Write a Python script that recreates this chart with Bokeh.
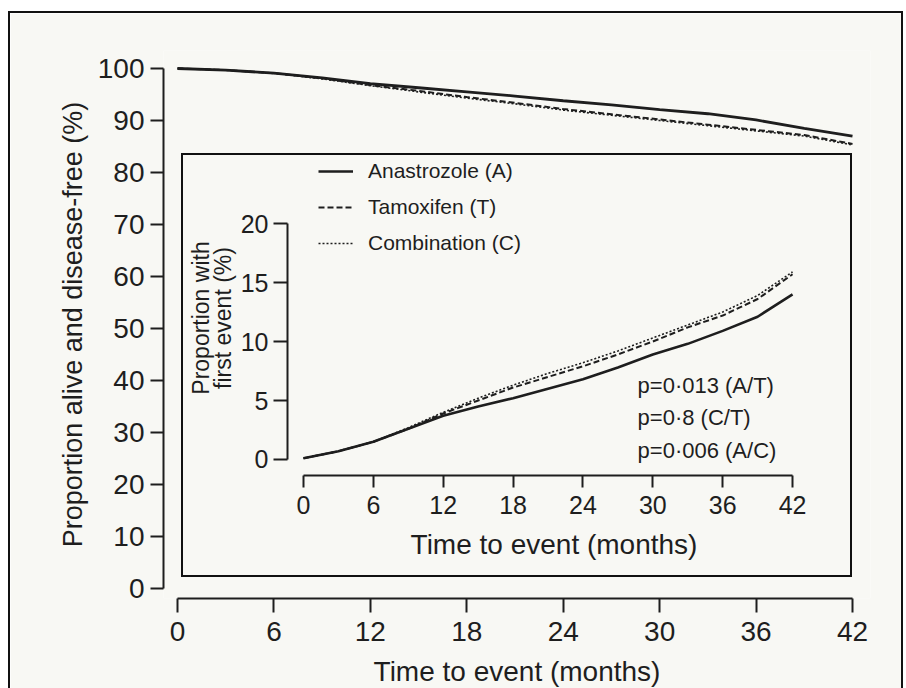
from bokeh.plotting import figure
from bokeh.models import FixedTicker, Legend, LegendItem, Label, LinearAxis
from bokeh.embed import file_html
from bokeh.resources import INLINE

# ---------------- data ----------------
months = [0, 3, 6, 9, 12, 15, 18, 21, 24, 27, 30, 33, 36, 39, 42]

# main panel: proportion alive and disease-free (%)
dfs_anastrozole = [100, 99.7, 99.1, 98.2, 97.1, 96.3, 95.5, 94.7, 93.8, 93.0, 92.1, 91.3, 90.1, 88.5, 87.0]
dfs_tamoxifen = [100, 99.7, 99.1, 98.1, 96.8, 95.7, 94.5, 93.4, 92.2, 91.2, 90.2, 89.2, 88.2, 87.2, 85.5]
dfs_combination = [100, 99.7, 99.1, 98.0, 96.7, 95.5, 94.3, 93.2, 92.0, 91.0, 90.0, 89.0, 88.0, 87.0, 85.3]

# inset: proportion with first event (%)
event_anastrozole = [0.1, 0.7, 1.5, 2.6, 3.7, 4.5, 5.2, 6.0, 6.8, 7.8, 8.9, 9.8, 10.9, 12.1, 14.0]
event_tamoxifen = [0.1, 0.7, 1.5, 2.6, 3.9, 5.0, 6.1, 7.0, 7.9, 8.9, 10.0, 11.2, 12.2, 13.6, 15.7]
event_combination = [0.1, 0.7, 1.5, 2.7, 4.0, 5.2, 6.3, 7.3, 8.2, 9.2, 10.3, 11.4, 12.5, 13.9, 15.9]

x_ticks = [0, 6, 12, 18, 24, 30, 36, 42]
main_y_ticks = [0, 10, 20, 30, 40, 50, 60, 70, 80, 90, 100]
inset_y_ticks = [0, 5, 10, 15, 20]

series_labels = ["Anastrozole (A)", "Tamoxifen (T)", "Combination (C)"]
p_values = ["p=0\u00b7013 (A/T)", "p=0\u00b78 (C/T)", "p=0\u00b7006 (A/C)"]
p_value_y = [6.27, 3.56, 0.76]
p_value_x = 28.69
inset_title_lines = ["first event (%)", "Proportion with"]   # inner line first

# ---------------- style ----------------
FONT = "Liberation Sans"
INK = "#1e1e1e"
BG = "#f8f8f4"


def style_axis(ax, ticks, bounds, tick_out, label_size, standoff):
    ax.ticker = FixedTicker(ticks=ticks)
    ax.bounds = bounds
    ax.major_tick_out = tick_out
    ax.major_tick_in = 0
    ax.minor_tick_out = 0
    ax.minor_tick_in = 0
    ax.axis_line_width = 2
    ax.axis_line_color = INK
    ax.major_tick_line_width = 2
    ax.major_tick_line_color = INK
    ax.major_label_text_font = FONT
    ax.major_label_text_font_size = label_size
    ax.major_label_text_color = INK
    ax.major_label_standoff = standoff
    ax.axis_label_text_font = FONT
    ax.axis_label_text_font_style = "normal"
    ax.axis_label_text_color = INK


# ---------------- main figure ----------------
p = figure(
    width=895, height=677,
    x_range=(-0.871, 43.12), y_range=(-1.923, 103.46),
    min_border_left=153, min_border_right=35, min_border_top=37, min_border_bottom=92,
    output_backend="svg", toolbar_location=None,
    background_fill_color=BG, border_fill_color=BG, outline_line_color=None,
    styles={"border-top": "2px solid #111", "border-left": "2px solid #111",
            "border-right": "2px solid #111"},
    margin=(11, 0, 0, 8),
)
p.grid.visible = False
style_axis(p.xaxis[0], x_ticks, (0, 42), 14, "28px", 9)
style_axis(p.yaxis[0], main_y_ticks, (0, 100), 13, "28px", 6)
p.xaxis[0].axis_label = "Time to event (months)"
p.xaxis[0].axis_label_text_font_size = "28px"
p.xaxis[0].axis_label_standoff = 12
p.yaxis[0].axis_label = "Proportion alive and disease-free (%)"
p.yaxis[0].axis_label_text_font_size = "27px"
p.yaxis[0].axis_label_standoff = 7

p.line(months, dfs_anastrozole, line_color=INK, line_width=2.8)
p.line(months, dfs_tamoxifen, line_color=INK, line_width=2, line_dash="6 3")
p.line(months, dfs_combination, line_color=INK, line_width=1.6, line_dash="2 2")

# ---------------- inset figure ----------------
q = figure(
    width=671, height=424,
    x_range=(-1.374, 44.40), y_range=(-1.356, 25.34),
    min_border_left=104, min_border_right=34, min_border_top=5, min_border_bottom=104,
    output_backend="svg", toolbar_location=None,
    background_fill_color=BG, border_fill_color=BG, outline_line_color=None,
    styles={"border": "2px solid #111"},
    margin=(-535, 0, 0, 181),
)
q.grid.visible = False
style_axis(q.xaxis[0], x_ticks, (0, 42), 12, "25px", 8)
style_axis(q.yaxis[0], inset_y_ticks, (0, 20), 14, "25px", 5)
q.xaxis[0].axis_label = "Time to event (months)"
q.xaxis[0].axis_label_text_font_size = "28px"
q.xaxis[0].axis_label_standoff = 12

# two-line y title of the inset: one label-only axis per line
for txt, sto in zip(inset_title_lines, [2, -7]):
    ax = LinearAxis(ticker=FixedTicker(ticks=[]), bounds=(3.56, 20.0),
                    axis_line_color=None, major_tick_out=0, major_tick_in=0,
                    minor_tick_out=0, minor_tick_in=0, major_label_standoff=0,
                    axis_label=txt, axis_label_standoff=sto,
                    axis_label_text_font=FONT, axis_label_text_font_size="23px",
                    axis_label_text_font_style="normal", axis_label_text_color=INK)
    q.add_layout(ax, "left")

ra = q.line(months, event_anastrozole, line_color=INK, line_width=2.6)
rt = q.line(months, event_tamoxifen, line_color=INK, line_width=2, line_dash="6 3")
rc = q.line(months, event_combination, line_color=INK, line_width=1.6, line_dash="2 2")

legend = Legend(
    items=[LegendItem(label=series_labels[0], renderers=[ra]),
           LegendItem(label=series_labels[1], renderers=[rt]),
           LegendItem(label=series_labels[2], renderers=[rc])],
    location=(31, 218), orientation="vertical",
    glyph_width=35, glyph_height=28, label_height=28, label_standoff=15,
    spacing=8, padding=0, margin=0,
    border_line_color=None, background_fill_alpha=0,
    label_text_font=FONT, label_text_font_size="21px", label_text_color=INK,
)
q.add_layout(legend)

for txt, yv in zip(p_values, p_value_y):
    q.add_layout(Label(x=p_value_x, y=yv, text=txt, text_baseline="middle",
                       text_align="left", text_font=FONT, text_font_size="22px",
                       text_color=INK))

open("out.html", "w").write(file_html([p, q], INLINE))
